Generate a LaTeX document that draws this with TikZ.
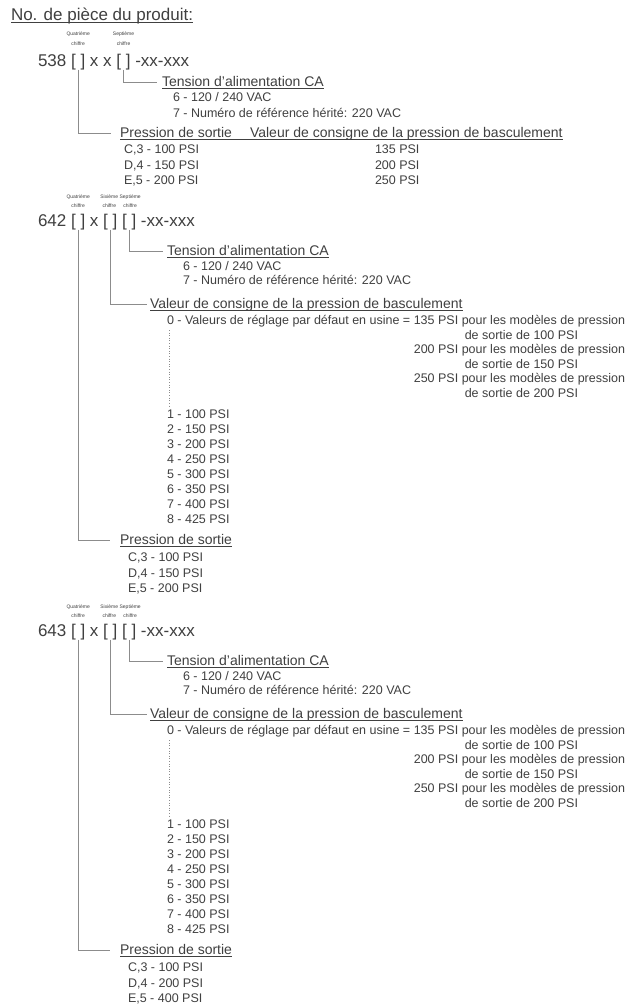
\documentclass[tikz,border=0pt]{standalone}
\usepackage{fontspec}
\setmainfont{Liberation Sans}
\usetikzlibrary{calc}
\definecolor{txt}{HTML}{404040}
\definecolor{ln}{HTML}{8C8C8C}
\newcommand\myul[1]{\leavevmode\setbox0\hbox{#1}\rlap{\rule[-2.3pt]{\wd0}{0.7pt}}\box0}
\newcommand\gapsp{\kern.278em}
\newcommand\blockB[4]{%
\node[pn] (#1n) at (38,226) {#2\gapsp};
\node[pn] (#1b1) at (#1n.base east) {[\ ]};
\node[pn] (#1x) at (#1b1.base east) {\gapsp x\gapsp};
\node[pn] (#1b2) at (#1x.base east) {[\ ]};
\node[pn] (#1b3) at ([xshift=4.7pt]#1b2.base east) {[\ ]};
\node[pn] (#1r) at (#1b3.base east) {\gapsp-xx-xxx};
\node[tiny] (#1q1) at ($(#1b1.base)+(0,-28)$) {Quatrième};
\node[tiny] (#1q2) at ($(#1b1.base)+(0,-19)$) {chiffre};
\node[tiny] (#1s1) at ($(#1b2.base)+(-1,-28)$) {Sixième};
\node[tiny] (#1s2) at ($(#1b2.base)+(-1,-19)$) {chiffre};
\node[tiny] (#1e1) at ($(#1b3.base)+(1,-28)$) {Septième};
\node[tiny] (#1e2) at ($(#1b3.base)+(1,-19)$) {chiffre};
\node[head] (#1t) at (167,255) {\myul{Tension d'alimentation CA}};
\node[body] (#1t6) at (183,270.5) {6 - 120 / 240 VAC};
\node[body] (#1t7) at (183,284.5) {7 - Numéro de référence hérité: 220 VAC};
\node[head] (#1v) at (150,308) {\myul{Valeur de consigne de la pression de basculement}};
\node[body] (#1v0a) at (167,324.5) {0 - Valeurs de réglage par défaut en usine = 135 PSI\gapsp};
\node[body] (#1v0b) at (#1v0a.base east) {pour les modèles de pression};
\node[body] (#1v1) at ($(#1v0b.base west)+(3,14.5)$) {de sortie de 100 PSI};
\node[body] (#1v2b) at ($(#1v0b.base west)+(0,29)$) {pour les modèles de pression};
\node[body, anchor=base east] (#1v2a) at (#1v2b.base west) {200 PSI\gapsp};
\node[body] (#1v3) at ($(#1v0b.base west)+(3,43.5)$) {de sortie de 150 PSI};
\node[body] (#1v4b) at ($(#1v0b.base west)+(0,58)$) {pour les modèles de pression};
\node[body, anchor=base east] (#1v4a) at (#1v4b.base west) {250 PSI\gapsp};
\node[body] (#1v5) at ($(#1v0b.base west)+(3,72.5)$) {de sortie de 200 PSI};
\foreach \k/\p in {1/100,2/150,3/200,4/250,5/300,6/350,7/400,8/425}
  \node[body] (#1l\k) at (167,{418.5+15*(\k-1)}) {\k{} - \p{} PSI};
\node[head] (#1p) at (120,544) {\myul{Pression de sortie}};
\node[body] (#1c3) at (128,561.5) {C,3 - 100 PSI};
\node[body] (#1d4) at (128,577.5) {D,4 - #3 PSI};
\node[body] (#1e5) at (128,592.5) {E,5 - #4 PSI};
\draw[conn] (#1b3.south) |- ([xshift=-4pt]#1t.west);
\draw[conn] (#1b2.south) |- ([xshift=-3pt]#1v.west);
\draw[conn] (#1b1.south) |- ([xshift=-10pt]#1p.west);
\draw[dots] ([xshift=2.5pt,yshift=-3pt]#1v0a.south west) -- ([xshift=2.5pt,yshift=3pt]#1l1.north west);
}
\begin{document}
\begin{tikzpicture}[x=1pt,y=-1pt,
  every node/.style={inner sep=0pt, outer sep=0pt, text=txt},
  title/.style={font=\fontsize{17}{19}\selectfont, anchor=base west},
  pn/.style={font=\fontsize{17}{19}\selectfont, anchor=base west},
  tiny/.style={font=\fontsize{5}{6}\selectfont, anchor=base},
  head/.style={font=\fontsize{14}{16}\selectfont, anchor=base west},
  body/.style={font=\fontsize{12.5}{14}\selectfont, anchor=base west},
  conn/.style={draw=ln, line width=0.8pt},
  dots/.style={draw=ln, line width=0.6pt, dotted}]
\useasboundingbox (0,0) rectangle (633,1007);
\fill[white] (0,0) rectangle (633,1007);
\node[title] (title) at (11,20) {\myul{No. de pièce du produit:}};
% block 538
\node[pn] (an) at (38,66) {538\gapsp};
\node[pn] (ab1) at (an.base east) {[\ ]};
\node[pn] (ax) at (ab1.base east) {\gapsp x\gapsp x\gapsp};
\node[pn] (ab2) at (ax.base east) {[\ ]};
\node[pn] (ar) at (ab2.base east) {\gapsp-xx-xxx};
\node[tiny] (aq1) at ($(ab1.base)+(0,-31)$) {Quatrième};
\node[tiny] (aq2) at ($(ab1.base)+(0,-21)$) {chiffre};
\node[tiny] (as1) at ($(ab2.base)+(0,-31)$) {Septième};
\node[tiny] (as2) at ($(ab2.base)+(0,-21)$) {chiffre};
\node[head] (at) at (162,86) {\myul{Tension d'alimentation CA}};
\node[body] (at6) at (173,101.5) {6 - 120 / 240 VAC};
\node[body] (at7) at (173,117.5) {7 - Numéro de référence hérité: 220 VAC};
\node[head] (ap) at (120,137) {\myul{Pression de sortie\hspace{18pt}Valeur de consigne de la pression de basculement}};
\node[body] (ac3) at (124,153.5) {C,3 - 100 PSI};
\node[body] (ad4) at (124,169) {D,4 - 150 PSI};
\node[body] (ae5) at (124,184.5) {E,5 - 200 PSI};
\node[body] (ac3v) at (375,153.5) {135 PSI};
\node[body] (ad4v) at (375,169) {200 PSI};
\node[body] (ae5v) at (375,184.5) {250 PSI};
\draw[conn] (ab2.south) |- ([xshift=-5pt]at.west);
\draw[conn] (ab1.south) |- ([xshift=-9pt]ap.west);
% block 642
\blockB{b}{642}{150}{200}
% block 643
\begin{scope}[yshift=-410pt]
\blockB{c}{643}{200}{400}
\end{scope}
\end{tikzpicture}
\end{document}
